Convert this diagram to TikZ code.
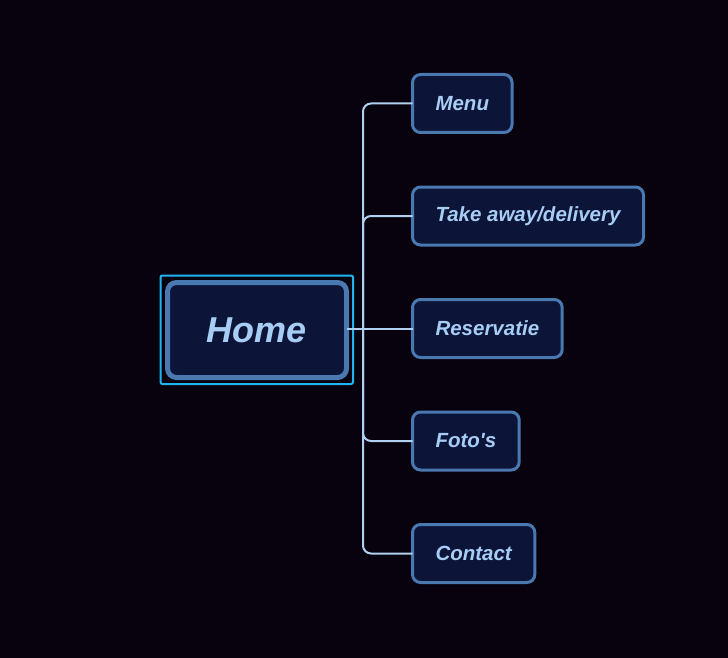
\documentclass[tikz,border=0pt]{standalone}
\usepackage{fontspec}
\setmainfont{Liberation Sans}
\usepackage{tikz}

\definecolor{bgdark}{HTML}{07020E}
\definecolor{boxfill}{HTML}{0C1438}
\definecolor{boxline}{HTML}{4A78B0}
\definecolor{boxtext}{HTML}{A8CDF5}
\definecolor{selcyan}{HTML}{1FB5F0}
\definecolor{linkline}{HTML}{B0D0F0}

\begin{document}
\begin{tikzpicture}[x=1pt, y=-1pt,
  page/.style={draw=boxline, fill=boxfill, text=boxtext, line width=3pt, rounded corners=8pt,
    minimum height=58pt, inner xsep=23pt, outer sep=0pt, anchor=west,
    font=\fontsize{20.5}{25}\selectfont\bfseries\itshape},
  homepage/.style={draw=boxline, fill=boxfill, text=boxtext, line width=5pt, rounded corners=9pt,
    minimum width=179pt, minimum height=95pt, outer sep=0pt,
    font=\fontsize{36}{44}\selectfont\bfseries\itshape},
  link/.style={draw=linkline, line width=2pt, rounded corners=8pt}]
\useasboundingbox[fill=bgdark] (0,0) rectangle (728,658);

% selection frame round Home
\draw[selcyan, line width=2pt, rounded corners=2pt] (160.5,275.5) rectangle (353,384);
\node[homepage] (home) at (257,330) {Home};

\node[page] (menu) at (412.5,103.5) {Menu};
\node[page] (takeaway) at (412.5,216) {Take away/delivery};
\node[page] (reservatie) at (412.5,328.5) {Reservatie};
\node[page] (fotos) at (412.5,441) {Foto\textquotesingle s};
\node[page] (contact) at (412.5,553.5) {Contact};

\coordinate (fork) at (363,328.5);

\draw[link] (home.east |- fork) -- (reservatie.west);
\draw[link] (fork) |- (menu.west);
\draw[link] (fork) |- (takeaway.west);
\draw[link] (fork) |- (fotos.west);
\draw[link] (fork) |- (contact.west);
\end{tikzpicture}
\end{document}
